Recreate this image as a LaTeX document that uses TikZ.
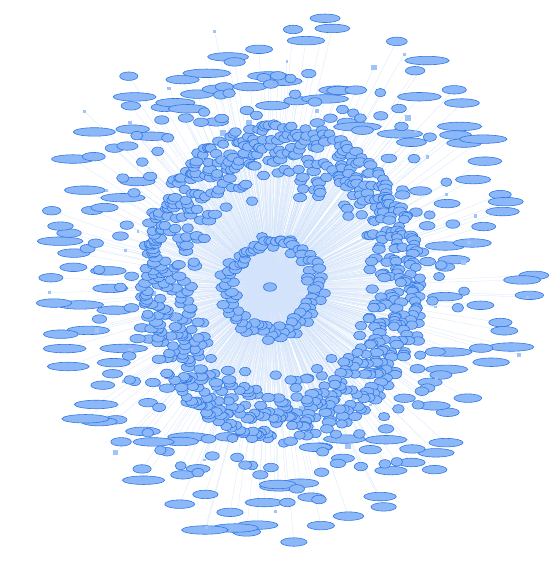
\documentclass[tikz,border=0pt]{standalone}
\usetikzlibrary{shapes.geometric}
\pgfdeclarelayer{bg}
\pgfsetlayers{bg,main}
\definecolor{nfill}{RGB}{140,184,248}
\definecolor{nline}{RGB}{50,120,228}
\definecolor{eline}{RGB}{210,227,251}
\definecolor{sqfill}{RGB}{160,196,248}
\tikzset{
  gnode/.style={ellipse, draw=nline, fill=nfill, line width=0.6pt, inner sep=0pt,
    minimum width=#1, minimum height=8.5pt},
  sqnode/.style={rectangle, fill=sqfill, draw=none, inner sep=0pt, minimum size=#1},
  edge/.style={draw=eline, line width=0.25pt}
}
\begin{document}
\begin{tikzpicture}[x=1pt,y=-1pt]
\useasboundingbox (0,0) rectangle (553,562);
\node[gnode=13pt] (hub) at (270,287) {};
\pgfmathsetseed{11}
% outer wide nodes
\foreach \i in {1,...,150}{
  \pgfmathsetmacro\a{\i*2.4+rnd*2.4}
  \pgfmathsetmacro\r{sqrt(0.40+0.60*rnd)}
  \pgfmathsetmacro\w{18+rnd*30}
  \node[gnode=\w pt] (d\i) at ({282+252*\r*cos(\a)},{277+268*\r*sin(\a)}) {};
}
% small squares
\foreach \i in {1,...,45}{
  \pgfmathsetmacro\a{\i*8+rnd*8}
  \pgfmathsetmacro\r{0.5+0.5*rnd}
  \pgfmathsetmacro\s{2.5+5*rnd*rnd}
  \node[sqnode=\s pt] (e\i) at ({282+255*\r*cos(\a)},{277+264*\r*sin(\a)}) {};
}
% transition zone
\foreach \i in {1,...,110}{
  \pgfmathsetmacro\a{\i*3.27+rnd*3.27}
  \pgfmathsetmacro\t{1.0+0.4*rnd}
  \pgfmathsetmacro\w{11+rnd*5}
  \node[gnode=\w pt] (c\i) at ({281+140*\t*cos(\a)},{282+160*\t*sin(\a)}) {};
}
% dense band
\foreach \i in {1,...,720}{
  \pgfmathsetmacro\a{\i*0.5+rnd*0.5}
  \pgfmathsetmacro\t{sqrt(rnd)}
  \pgfmathsetmacro\w{11+rnd*3}
  \node[gnode=\w pt] (b\i) at ({281+(82+58*\t)*cos(\a)},{282+(82+78*\t)*sin(\a)}) {};
}
% inner ring
\foreach \i in {1,...,100}{
  \pgfmathsetmacro\a{\i*3.6+rnd*4}
  \pgfmathsetmacro\r{36+rnd*16}
  \pgfmathsetmacro\w{11+rnd*3}
  \node[gnode=\w pt] (a\i) at ({272+\r*cos(\a)},{287+\r*sin(\a)*1.03}) {};
}
\begin{pgfonlayer}{bg}
  \fill[white] (0,0) rectangle (553,562);
  \foreach \i in {1,...,100}{\draw[edge] (hub.center) -- (a\i.center);}
  \foreach \i in {1,...,720}{\draw[edge] (hub.center) -- (b\i.center);}
  \foreach \i in {1,...,110}{\draw[edge] (hub.center) -- (c\i.center);}
  \foreach \i in {1,...,150}{\draw[edge] (hub.center) -- (d\i.center);}
  \foreach \i in {1,...,45}{\draw[edge] (hub.center) -- (e\i.center);}
\end{pgfonlayer}
\end{tikzpicture}
\end{document}
